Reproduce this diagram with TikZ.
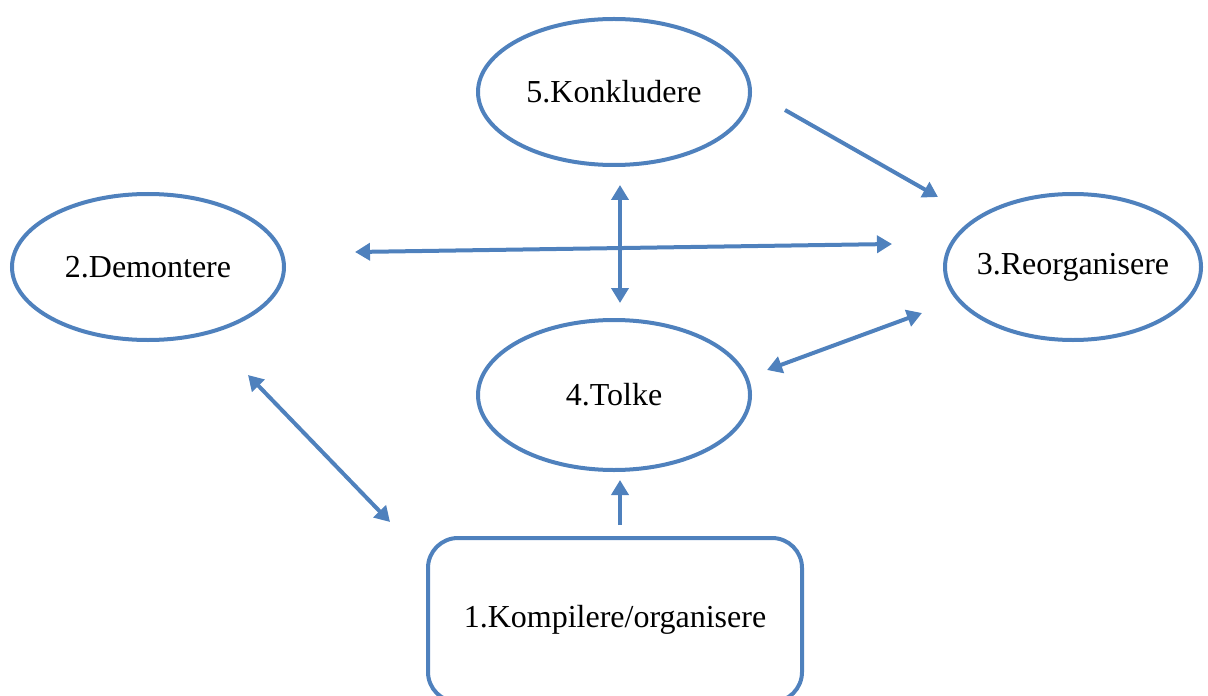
\documentclass[tikz,border=0pt]{standalone}
\usepackage{fontspec}
\setmainfont{Liberation Serif}
\usepackage{xcolor}
\definecolor{Office Blue}{HTML}{4F81BD}
\colorlet{cBlue}{Office Blue}
\usetikzlibrary{positioning, arrows.meta, shapes.geometric}
\tikzset{
	x = .5pt,
	y = -.5pt,
	line width = 2pt,
	font = \fontsize{16}{19}\selectfont,
	>={Triangle[length=7.5pt, width=8.5pt]},
	step node/.style={
		draw=cBlue,
		ellipse,
		inner sep=0pt,
		line width=2pt,
		minimum width=136pt,
		minimum height=73pt
	},
	start node/.style={
		draw=cBlue,
		rectangle,
		rounded corners=15pt,
		line width=2pt,
		minimum width=187pt,
		minimum height=82pt
	},
	link/.style={
		draw=cBlue,
		line width=2pt
	}
}

\begin{document}
\begin{tikzpicture}
        \useasboundingbox (0,0) rectangle (1208,695);
        \node[step node] (s5) at (614,92) {5.Konkludere};
        \node[step node] (s2) at (148,267) {2.Demontere};
        \node (s3) at (1073,267) {3.Reorganisere};
        \draw[link] (s3.center) ellipse [x radius=64pt, y radius=36.5pt];
        \node[step node, minimum height=75pt] (s4) at (614,395) {4.Tolke};
        \node[start node] (s1) at (615,620) {1.Kompilere/organisere};

        % free ends of the arrows
        \coordinate (c53a) at (785,110);
        \coordinate (c53b) at (938,197);
        \coordinate (c23a) at (355,252);
        \coordinate (c23b) at (892,244);
        \coordinate (c54a) at (620,185);
        \coordinate (c54b) at (620,303);
        \coordinate (c43a) at (767,370);
        \coordinate (c43b) at (922,313);
        \coordinate (c21a) at (248,375);
        \coordinate (c21b) at (390,522);
        \coordinate (c14a) at (620,525);
        \coordinate (c14b) at (620,480);

        \draw[link, ->] (c53a) -- (c53b);
        \draw[link, <->] (c23a) -- (c23b);
        \draw[link, <->] (c54a) -- (c54b);
        \draw[link, <->] (c43a) -- (c43b);
        \draw[link, <->] (c21a) -- (c21b);
        \draw[link, ->] (c14a) -- (c14b);
    \end{tikzpicture}
\end{document}
